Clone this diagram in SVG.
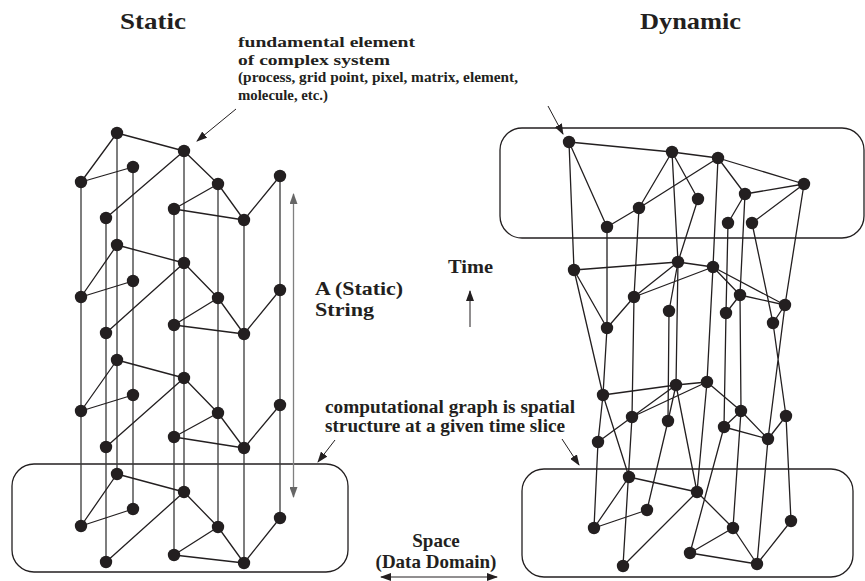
<svg xmlns="http://www.w3.org/2000/svg" width="865" height="581" viewBox="0 0 865 581">
<style>
.t{font-family:"Liberation Serif",serif;font-weight:bold;fill:#231f20}
.e{stroke:#231f20;stroke-width:1.3;fill:none}
.v{stroke:#3a3a3a;stroke-width:1.3;fill:none}
.n circle{fill:#231f20}
.box{fill:none;stroke:#231f20;stroke-width:1.3}
.ar{stroke:#231f20;stroke-width:1;fill:none}
</style>
<defs>
<marker id="ah" markerUnits="userSpaceOnUse" markerWidth="11" markerHeight="8" refX="10" refY="4" orient="auto-start-reverse"><path d="M0,0 L11,4 L0,8 z" fill="#231f20"/></marker>
<marker id="ahg" markerUnits="userSpaceOnUse" markerWidth="11" markerHeight="8" refX="10" refY="4" orient="auto-start-reverse"><path d="M0,0 L11,4 L0,8 z" fill="#666"/></marker>
</defs>
<rect fill="#fff" width="865" height="581"/>

<!-- labels -->
<text class="t" x="120" y="29" font-size="23" textLength="66" lengthAdjust="spacingAndGlyphs">Static</text>
<text class="t" x="640" y="29" font-size="23" textLength="101" lengthAdjust="spacingAndGlyphs">Dynamic</text>
<text class="t" font-size="15.5"><tspan x="238" y="47" textLength="177" lengthAdjust="spacingAndGlyphs">fundamental element</tspan><tspan x="238" y="64.5" textLength="152" lengthAdjust="spacingAndGlyphs">of complex system</tspan><tspan x="238" y="82" textLength="280" lengthAdjust="spacingAndGlyphs">(process, grid point, pixel, matrix, element,</tspan><tspan x="238" y="99.5" textLength="90" lengthAdjust="spacingAndGlyphs">molecule, etc.)</tspan></text>
<text class="t" font-size="19"><tspan x="315" y="295" textLength="88" lengthAdjust="spacingAndGlyphs">A (Static)</tspan><tspan x="315" y="316" textLength="59" lengthAdjust="spacingAndGlyphs">String</tspan></text>
<text class="t" x="448" y="273" font-size="19" textLength="45" lengthAdjust="spacingAndGlyphs">Time</text>
<text class="t" font-size="18"><tspan x="325" y="413" textLength="250" lengthAdjust="spacingAndGlyphs">computational graph is spatial</tspan><tspan x="325" y="432" textLength="240" lengthAdjust="spacingAndGlyphs">structure at a given time slice</tspan></text>
<text class="t" font-size="19" text-anchor="middle"><tspan x="436" y="547">Space</tspan><tspan x="436" y="568">(Data Domain)</tspan></text>

<!-- boxes -->
<rect class="box" x="12" y="464" width="336" height="108" rx="22"/>
<rect class="box" x="500" y="128" width="364" height="110" rx="22"/>
<rect class="box" x="522" y="469" width="331" height="108" rx="22"/>

<g id="connectors">
<!-- annotation arrows -->
<line class="ar" x1="236" y1="109" x2="197" y2="141" marker-end="url(#ah)"/>
<line class="ar" x1="548" y1="106" x2="563" y2="134" marker-end="url(#ah)"/>
<line class="ar" x1="335" y1="440" x2="318" y2="462" marker-end="url(#ah)"/>
<line class="ar" x1="562" y1="439" x2="579" y2="465" marker-end="url(#ah)"/>
<line class="ar" x1="470" y1="327" x2="470" y2="291" marker-end="url(#ah)"/>
<line class="ar" x1="381" y1="577" x2="497" y2="577" marker-start="url(#ah)" marker-end="url(#ah)"/>
<line x1="293.5" y1="194" x2="293.5" y2="497" stroke="#808080" stroke-width="1.3" marker-start="url(#ahg)" marker-end="url(#ahg)"/>

<!-- left verticals -->
<path class="v" d="M81,182V526 M106,218V562 M117,133V474 M133,167V509 M174,209V555 M184,151V492 M218,184V527 M244,220V563 M280,176V518"/>
<!-- left layer edges -->
<path class="e" d="M117,133L184,151 M117,133L81,182 M81,182L133,167 M184,151L106,218 M184,151L218,184 M218,184L174,209 M218,184L244,220 M174,209L244,220 M244,220L280,176"/>
<path class="e" d="M117,245L184,263 M117,245L81,297 M81,297L133,281 M184,263L106,333 M184,263L218,298 M218,298L174,325 M218,298L244,334 M174,325L244,334 M244,334L280,290"/>
<path class="e" d="M117,360L184,378 M117,360L81,411 M81,411L133,395 M184,378L106,447 M184,378L218,413 M218,413L174,437 M218,413L244,448 M174,437L244,448 M244,448L280,405"/>
<path class="e" d="M117,474L184,492 M117,474L81,526 M81,526L133,509 M184,492L106,562 M184,492L218,527 M218,527L174,555 M218,527L244,563 M174,555L244,563 M244,563L280,518"/>

<!-- right: R layer -->
<path class="e" d="M569,142L672,152 M672,152L718,158 M718,158L804,184 M569,142L607,227 M607,227L639,208 M639,208L718,158 M639,208L672,152 M672,152L698,199 M718,158L745,194 M745,194L804,184 M745,194L728,223 M804,184L752,223"/>
<!-- R to S -->
<path class="e" d="M569,142L574,270 M672,152L678,262 M698,199L678,262 M718,158L713,267 M607,227L607,328 M639,208L634,297 M728,223L726,313 M745,194L740,295 M752,223L773,323 M804,184L785,305"/>
<!-- S layer -->
<path class="e" d="M574,270L678,262 M678,262L713,267 M713,267L785,305 M574,270L607,328 M607,328L634,297 M634,297L713,267 M634,297L678,262 M678,262L669,311 M713,267L740,295 M740,295L785,305 M740,295L726,313 M785,305L773,323"/>
<!-- S to T -->
<path class="e" d="M574,270L603,395 M607,328L603,395 M634,297L632,417 M669,311L668,421 M678,262L676,385 M713,267L707,382 M726,313L724,427 M740,295L741,411 M773,323L786,416 M785,305L768,439"/>
<!-- T layer -->
<path class="e" d="M603,395L676,385 M676,385L707,382 M603,395L598,442 M598,442L632,417 M632,417L676,385 M632,417L707,382 M676,385L668,421 M707,382L741,411 M741,411L768,439 M741,411L724,427 M724,427L768,439 M786,416L768,439"/>
<!-- T to U -->
<path class="e" d="M598,442L594,528 M603,395L629,477 M632,417L623,566 M668,421L647,510 M676,385L697,492 M707,382L697,492 M724,427L690,553 M741,411L733,528 M768,439L757,564 M786,416L791,521"/>
<!-- U layer -->
<path class="e" d="M629,477L697,492 M629,477L594,528 M594,528L647,510 M697,492L623,566 M697,492L733,528 M733,528L690,553 M733,528L757,564 M690,553L757,564 M757,564L791,521"/>
</g>

<g class="n">
<g id="LA1"><circle cx="117" cy="133" r="6.2"/></g>
<g id="LB1"><circle cx="184" cy="151" r="6.2"/></g>
<g id="LC1"><circle cx="133" cy="167" r="6.2"/></g>
<g id="LD1"><circle cx="81" cy="182" r="6.2"/></g>
<g id="LE1"><circle cx="218" cy="184" r="6.2"/></g>
<g id="LF1"><circle cx="280" cy="176" r="6.2"/></g>
<g id="LG1"><circle cx="174" cy="209" r="6.2"/></g>
<g id="LH1"><circle cx="244" cy="220" r="6.2"/></g>
<g id="LI1"><circle cx="106" cy="218" r="6.2"/></g>
<g id="LA2"><circle cx="117" cy="245" r="6.2"/></g>
<g id="LB2"><circle cx="184" cy="263" r="6.2"/></g>
<g id="LC2"><circle cx="133" cy="281" r="6.2"/></g>
<g id="LD2"><circle cx="81" cy="297" r="6.2"/></g>
<g id="LE2"><circle cx="218" cy="298" r="6.2"/></g>
<g id="LF2"><circle cx="280" cy="290" r="6.2"/></g>
<g id="LG2"><circle cx="174" cy="325" r="6.2"/></g>
<g id="LH2"><circle cx="244" cy="334" r="6.2"/></g>
<g id="LI2"><circle cx="106" cy="333" r="6.2"/></g>
<g id="LA3"><circle cx="117" cy="360" r="6.2"/></g>
<g id="LB3"><circle cx="184" cy="378" r="6.2"/></g>
<g id="LC3"><circle cx="133" cy="395" r="6.2"/></g>
<g id="LD3"><circle cx="81" cy="411" r="6.2"/></g>
<g id="LE3"><circle cx="218" cy="413" r="6.2"/></g>
<g id="LF3"><circle cx="280" cy="405" r="6.2"/></g>
<g id="LG3"><circle cx="174" cy="437" r="6.2"/></g>
<g id="LH3"><circle cx="244" cy="448" r="6.2"/></g>
<g id="LI3"><circle cx="106" cy="447" r="6.2"/></g>
<g id="LA4"><circle cx="117" cy="474" r="6.2"/></g>
<g id="LB4"><circle cx="184" cy="492" r="6.2"/></g>
<g id="LC4"><circle cx="133" cy="509" r="6.2"/></g>
<g id="LD4"><circle cx="81" cy="526" r="6.2"/></g>
<g id="LE4"><circle cx="218" cy="527" r="6.2"/></g>
<g id="LF4"><circle cx="280" cy="518" r="6.2"/></g>
<g id="LG4"><circle cx="174" cy="555" r="6.2"/></g>
<g id="LH4"><circle cx="244" cy="563" r="6.2"/></g>
<g id="LI4"><circle cx="106" cy="562" r="6.2"/></g>

<g id="R1"><circle cx="569" cy="142" r="6.2"/></g>
<g id="R2"><circle cx="672" cy="152" r="6.2"/></g>
<g id="R3"><circle cx="718" cy="158" r="6.2"/></g>
<g id="R4"><circle cx="804" cy="184" r="6.2"/></g>
<g id="R5"><circle cx="745" cy="194" r="6.2"/></g>
<g id="R6"><circle cx="698" cy="199" r="6.2"/></g>
<g id="R7"><circle cx="639" cy="208" r="6.2"/></g>
<g id="R8"><circle cx="607" cy="227" r="6.2"/></g>
<g id="R9"><circle cx="728" cy="223" r="6.2"/></g>
<g id="R10"><circle cx="752" cy="223" r="6.2"/></g>

<g id="S1"><circle cx="574" cy="270" r="6.2"/></g>
<g id="S2"><circle cx="678" cy="262" r="6.2"/></g>
<g id="S3"><circle cx="713" cy="267" r="6.2"/></g>
<g id="S4"><circle cx="634" cy="297" r="6.2"/></g>
<g id="S5"><circle cx="669" cy="311" r="6.2"/></g>
<g id="S6"><circle cx="740" cy="295" r="6.2"/></g>
<g id="S7"><circle cx="726" cy="313" r="6.2"/></g>
<g id="S8"><circle cx="785" cy="305" r="6.2"/></g>
<g id="S9"><circle cx="773" cy="323" r="6.2"/></g>
<g id="S10"><circle cx="607" cy="328" r="6.2"/></g>

<g id="T1"><circle cx="603" cy="395" r="6.2"/></g>
<g id="T2"><circle cx="676" cy="385" r="6.2"/></g>
<g id="T3"><circle cx="707" cy="382" r="6.2"/></g>
<g id="T4"><circle cx="632" cy="417" r="6.2"/></g>
<g id="T5"><circle cx="668" cy="421" r="6.2"/></g>
<g id="T6"><circle cx="741" cy="411" r="6.2"/></g>
<g id="T7"><circle cx="724" cy="427" r="6.2"/></g>
<g id="T8"><circle cx="786" cy="416" r="6.2"/></g>
<g id="T9"><circle cx="768" cy="439" r="6.2"/></g>
<g id="T10"><circle cx="598" cy="442" r="6.2"/></g>

<g id="UA"><circle cx="629" cy="477" r="6.2"/></g>
<g id="UB"><circle cx="697" cy="492" r="6.2"/></g>
<g id="UC"><circle cx="647" cy="510" r="6.2"/></g>
<g id="UD"><circle cx="594" cy="528" r="6.2"/></g>
<g id="UE"><circle cx="733" cy="528" r="6.2"/></g>
<g id="UF"><circle cx="791" cy="521" r="6.2"/></g>
<g id="UG"><circle cx="690" cy="553" r="6.2"/></g>
<g id="UH"><circle cx="757" cy="564" r="6.2"/></g>
<g id="UI"><circle cx="623" cy="566" r="6.2"/></g>
</g>
</svg>
